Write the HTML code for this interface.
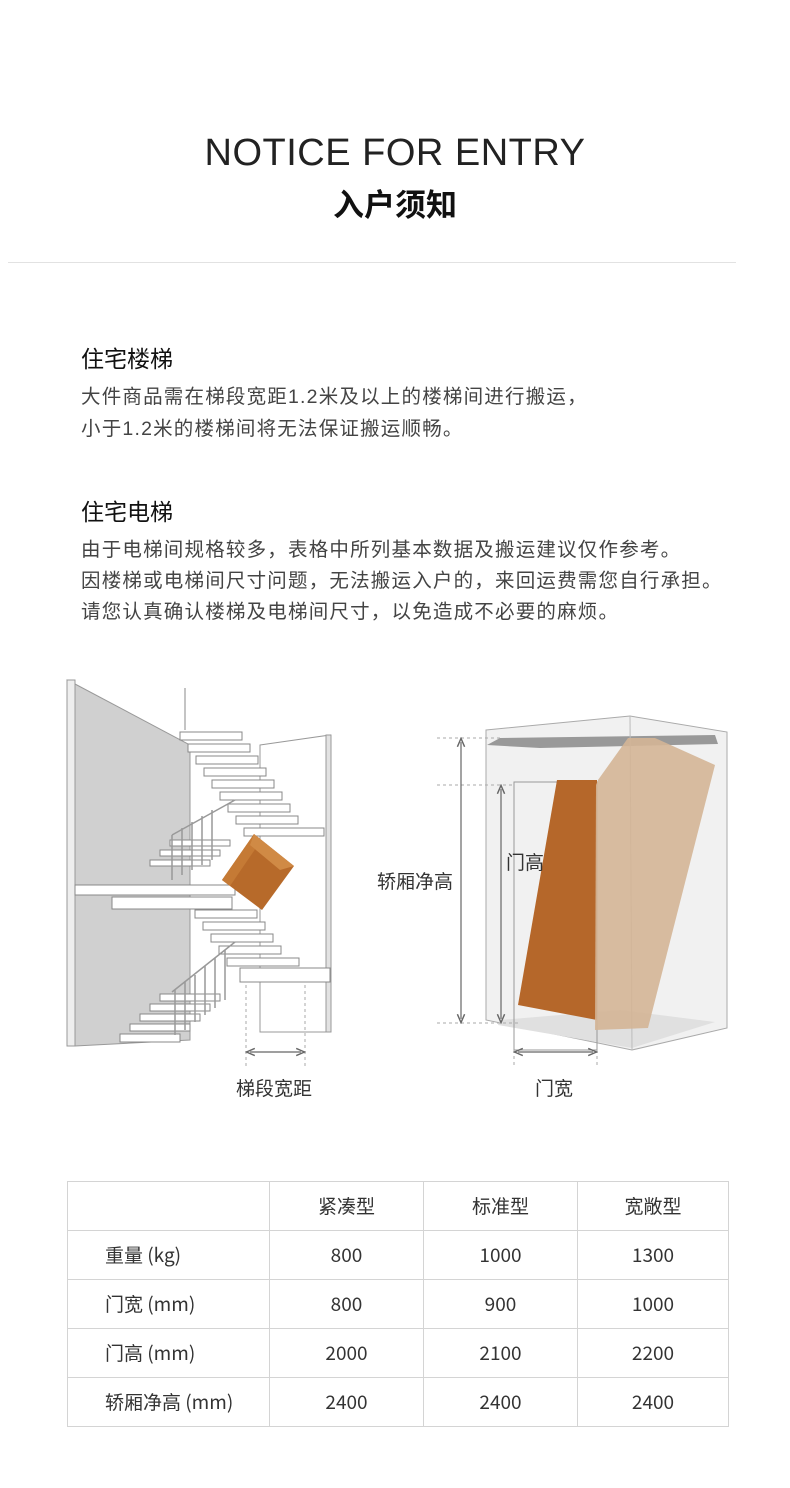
<!DOCTYPE html>
<html><head><meta charset="utf-8"><style>
*{margin:0;padding:0;box-sizing:border-box}
body{width:790px;height:1488px;background:#fff;position:relative;font-family:"Liberation Sans","Noto Sans CJK SC",sans-serif;color:#333;overflow:hidden}
.a{position:absolute;white-space:nowrap}
.en{left:0;width:790px;text-align:center;top:132px;font-size:38px;font-weight:300;color:#222;letter-spacing:0.5px;font-family:"Liberation Sans",sans-serif}
.cn{left:0;width:790px;text-align:center;top:180px;font-size:31px;font-weight:bold;color:#111}
.h{left:81px;font-size:23px;color:#111}
.p{left:81px;font-size:19.5px;color:#444;letter-spacing:1.2px;line-height:32px}
table{position:absolute;left:67px;top:1181px;width:662px;border-collapse:collapse;font-size:19px;color:#333;font-family:"Noto Sans CJK SC",sans-serif}
td{border:1px solid #d4d4d4;height:49px;text-align:center;vertical-align:middle;line-height:20px;padding:0}
td:first-child{text-align:left;padding-left:37px;width:202px}
td:nth-child(2),td:nth-child(3){width:154px}
</style></head><body>
<div class="a en">NOTICE FOR ENTRY</div>
<div class="a cn">入户须知</div>
<div class="a" style="left:8px;top:262px;width:728px;height:1px;background:#e2e2e2"></div>
<div class="a h" style="top:340px">住宅楼梯</div>
<div class="a p" style="top:381px">大件商品需在梯段宽距1.2米及以上的楼梯间进行搬运，<br>小于1.2米的楼梯间将无法保证搬运顺畅。</div>
<div class="a h" style="top:493px">住宅电梯</div>
<div class="a p" style="top:535px;line-height:31px">由于电梯间规格较多，表格中所列基本数据及搬运建议仅作参考。<br>因楼梯或电梯间尺寸问题，无法搬运入户的，来回运费需您自行承担。<br>请您认真确认楼梯及电梯间尺寸，以免造成不必要的麻烦。</div>

<svg class="a" style="left:0;top:660px" width="790" height="460" viewBox="0 660 790 460">
<defs><marker id="ar" markerWidth="8" markerHeight="8" refX="4" refY="4" orient="auto-start-reverse"><path d="M0,1 L7,4 L0,7" fill="none" stroke="#666" stroke-width="1.2"/></marker></defs>
<polygon points="67,680 75,684 190,745 190,1040 75,1046 67,1046" fill="#d0d0d0" stroke="#999" stroke-width="1"/>
<rect x="67" y="680" width="8" height="366" fill="#eee" stroke="#999"/>
<polygon points="260,745 330,735 330,1032 260,1032" fill="#fff" stroke="#999"/>
<rect x="326" y="735" width="5" height="297" fill="#e2e2e2" stroke="#999"/>
<polyline points="185,688 185,730 M185,688 210,720" fill="none" stroke="#888"/>
<g fill="#fff" stroke="#888" stroke-width="1">
<rect x="180" y="732" width="62" height="8"/><rect x="188" y="744" width="62" height="8"/><rect x="196" y="756" width="62" height="8"/><rect x="204" y="768" width="62" height="8"/><rect x="212" y="780" width="62" height="8"/><rect x="220" y="792" width="62" height="8"/><rect x="228" y="804" width="62" height="8"/><rect x="236" y="816" width="62" height="8"/><rect x="244" y="828" width="80" height="8"/>
<rect x="75" y="885" width="160" height="10"/><rect x="112" y="897" width="120" height="12"/>
<rect x="195" y="910" width="62" height="8"/><rect x="203" y="922" width="62" height="8"/><rect x="211" y="934" width="62" height="8"/><rect x="219" y="946" width="62" height="8"/><rect x="227" y="958" width="72" height="8"/><rect x="240" y="968" width="90" height="14"/>
<rect x="160" y="994" width="60" height="7"/><rect x="150" y="1004" width="60" height="7"/><rect x="140" y="1014" width="60" height="7"/><rect x="130" y="1024" width="60" height="7"/><rect x="120" y="1034" width="60" height="8"/>
<rect x="150" y="860" width="60" height="6"/><rect x="160" y="850" width="60" height="6"/><rect x="170" y="840" width="60" height="6"/>
</g>
<g stroke="#999" stroke-width="1.5"><line x1="172" y1="835" x2="172" y2="880"/><line x1="182" y1="828" x2="182" y2="875"/><line x1="192" y1="822" x2="192" y2="870"/><line x1="202" y1="816" x2="202" y2="865"/><line x1="212" y1="810" x2="212" y2="860"/><line x1="172" y1="835" x2="235" y2="800"/>
<line x1="175" y1="990" x2="175" y2="1035"/><line x1="185" y1="982" x2="185" y2="1030"/><line x1="195" y1="975" x2="195" y2="1022"/><line x1="205" y1="966" x2="205" y2="1015"/><line x1="215" y1="958" x2="215" y2="1008"/><line x1="225" y1="950" x2="225" y2="1000"/><line x1="172" y1="992" x2="235" y2="942"/></g>
<polygon points="222,880 254,834 294,866 262,910" fill="#b76a2a"/>
<polygon points="222,880 254,834 260,842 230,886" fill="#c57a35"/>
<polygon points="254,834 294,866 280,870 250,845" fill="#d08a45"/>
<line x1="246" y1="985" x2="246" y2="1068" stroke="#aaa" stroke-dasharray="3,3"/>
<line x1="305" y1="985" x2="305" y2="1068" stroke="#aaa" stroke-dasharray="3,3"/>
<line x1="250" y1="1052" x2="301" y2="1052" stroke="#666" stroke-width="1.2" marker-start="url(#ar)" marker-end="url(#ar)"/>
<polygon points="486,730 630,716 727,732 727,1028 632,1050 486,1020" fill="#f1f1f1" stroke="#aaa"/>
<polygon points="487,745 500,738 715,735 718,744 540,748" fill="#999"/>
<polygon points="500,1020 620,1010 715,1022 632,1048 498,1025" fill="#e0e0e0"/>
<line x1="630" y1="716" x2="632" y2="1050" stroke="#bbb"/>
<rect x="514" y="782" width="83" height="268" fill="none" stroke="#999"/>
<polygon points="557,780 597,780 597,1020 518,1005" fill="#b5672a"/>
<polygon points="628,738 655,738 715,765 648,1028 595,1030 596,785 598,780" fill="#d4b596" opacity="0.9"/>
<line x1="437" y1="738" x2="500" y2="738" stroke="#aaa" stroke-dasharray="3,3"/>
<line x1="437" y1="785" x2="514" y2="785" stroke="#aaa" stroke-dasharray="3,3"/>
<line x1="437" y1="1023" x2="520" y2="1023" stroke="#aaa" stroke-dasharray="3,3"/>
<line x1="461" y1="742" x2="461" y2="1019" stroke="#666" stroke-width="1.2" marker-start="url(#ar)" marker-end="url(#ar)"/>
<line x1="501" y1="789" x2="501" y2="1019" stroke="#666" stroke-width="1.2" marker-start="url(#ar)" marker-end="url(#ar)"/>
<line x1="514" y1="1050" x2="514" y2="1068" stroke="#aaa" stroke-dasharray="3,3"/>
<line x1="597" y1="1050" x2="597" y2="1068" stroke="#aaa" stroke-dasharray="3,3"/>
<line x1="518" y1="1052" x2="593" y2="1052" stroke="#666" stroke-width="1.2" marker-start="url(#ar)" marker-end="url(#ar)"/>
<g font-family="Liberation Sans,Noto Sans CJK SC,sans-serif" font-size="19" fill="#333">
<text x="377" y="888">轿厢净高</text><text x="506" y="869">门高</text>
<text x="236" y="1095">梯段宽距</text><text x="535" y="1095">门宽</text></g>
</svg>

<table>
<tr><td></td><td>紧凑型</td><td>标准型</td><td>宽敞型</td></tr>
<tr><td>重量 (kg)</td><td>800</td><td>1000</td><td>1300</td></tr>
<tr><td>门宽 (mm)</td><td>800</td><td>900</td><td>1000</td></tr>
<tr><td>门高 (mm)</td><td>2000</td><td>2100</td><td>2200</td></tr>
<tr><td>轿厢净高 (mm)</td><td>2400</td><td>2400</td><td>2400</td></tr>
</table>
</body></html>
